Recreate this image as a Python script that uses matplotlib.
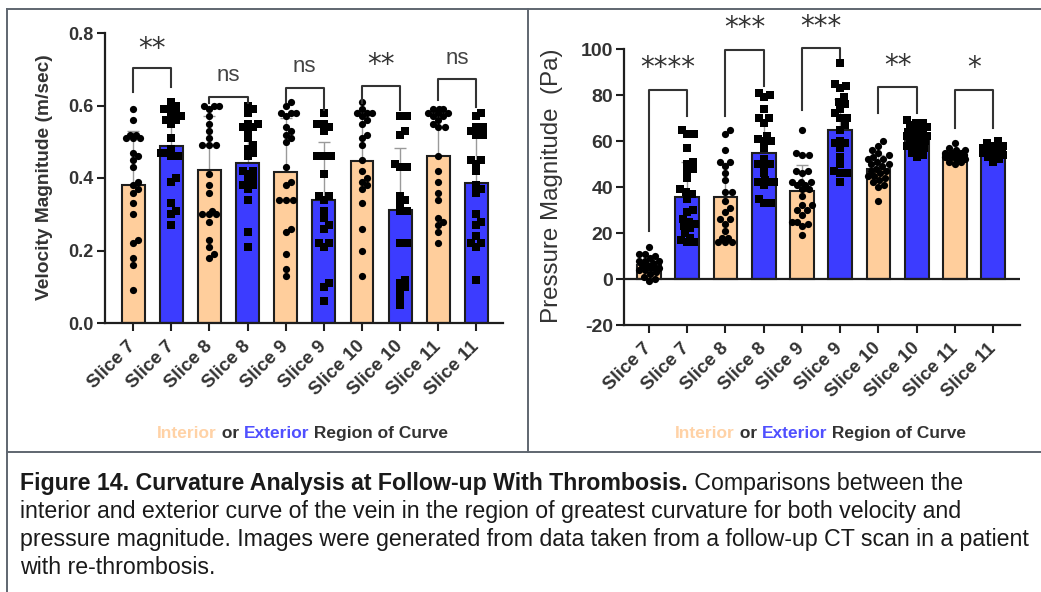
import numpy as np
import matplotlib.pyplot as plt
from matplotlib.lines import Line2D

# --- data ---
slice_labels = ['Slice 7', 'Slice 7', 'Slice 8', 'Slice 8', 'Slice 9',
                'Slice 9', 'Slice 10', 'Slice 10', 'Slice 11', 'Slice 11']

# velocity magnitude (m/sec): bar means, SD, individual points
vel_means = [0.381, 0.488, 0.422, 0.442, 0.416, 0.339, 0.448, 0.312, 0.461, 0.385]
vel_sd = [0.15, 0.10, 0.15, 0.10, 0.15, 0.159, 0.14, 0.172, 0.12, 0.14]

vel_s7_in = [0.59, 0.56, 0.52, 0.51, 0.51, 0.52, 0.51, 0.47, 0.46, 0.45, 0.43,
             0.39, 0.38, 0.37, 0.36, 0.33, 0.30, 0.23, 0.22, 0.18, 0.16, 0.09]
vel_s7_ex = [0.61, 0.60, 0.59, 0.59, 0.58, 0.57, 0.57, 0.56, 0.56, 0.55, 0.51,
             0.48, 0.47, 0.47, 0.46, 0.46, 0.40, 0.39, 0.33, 0.31, 0.30, 0.27]
vel_s8_in = [0.60, 0.60, 0.60, 0.59, 0.57, 0.55, 0.53, 0.51, 0.49, 0.49, 0.49, 0.41,
             0.38, 0.36, 0.31, 0.30, 0.30, 0.30, 0.28, 0.23, 0.21, 0.19, 0.18]
vel_s8_ex = [0.60, 0.59, 0.58, 0.55, 0.55, 0.54, 0.54, 0.53, 0.51, 0.49, 0.48, 0.47,
             0.46, 0.42, 0.42, 0.41, 0.40, 0.39, 0.38, 0.38, 0.37, 0.34, 0.25, 0.21]
vel_s9_in = [0.61, 0.60, 0.58, 0.58, 0.58, 0.57, 0.54, 0.53, 0.52, 0.51, 0.50,
             0.43, 0.39, 0.38, 0.34, 0.34, 0.34, 0.26, 0.25, 0.19, 0.15, 0.13]
vel_s9_ex = [0.58, 0.55, 0.55, 0.54, 0.53, 0.46, 0.46, 0.46, 0.41, 0.35, 0.35,
             0.34, 0.31, 0.29, 0.27, 0.26, 0.22, 0.22, 0.21, 0.11, 0.10, 0.06]
vel_s10_in = [0.61, 0.59, 0.58, 0.58, 0.58, 0.57, 0.56, 0.55, 0.52, 0.51, 0.49,
              0.45, 0.42, 0.40, 0.39, 0.38, 0.37, 0.33, 0.26, 0.20, 0.13]
vel_s10_ex = [0.57, 0.57, 0.53, 0.52, 0.44, 0.43, 0.43, 0.35, 0.34, 0.33,
              0.31, 0.31, 0.22, 0.22, 0.12, 0.11, 0.10, 0.09, 0.07, 0.05]
vel_s11_in = [0.59, 0.59, 0.59, 0.58, 0.58, 0.58, 0.57, 0.57, 0.56, 0.55, 0.54,
              0.54, 0.46, 0.42, 0.39, 0.36, 0.34, 0.29, 0.28, 0.27, 0.25, 0.22]
vel_s11_ex = [0.58, 0.57, 0.54, 0.54, 0.53, 0.52, 0.52, 0.45, 0.45, 0.44, 0.42,
              0.38, 0.37, 0.36, 0.30, 0.28, 0.27, 0.24, 0.22, 0.22, 0.21, 0.12]

vel_sig = ['**', 'ns', 'ns', '**', 'ns']
vel_br_top = [0.703, 0.623, 0.648, 0.654, 0.673]
vel_br_left = [0.637, 0.607, 0.610, 0.607, 0.615]
vel_br_right = [0.651, 0.607, 0.588, 0.588, 0.596]
vel_sig_y = [0.755, 0.684, 0.707, 0.712, 0.731]

# pressure magnitude (Pa)
pres_means = [6.0, 35.5, 35.5, 54.6, 38.4, 64.8, 47.7, 61.0, 53.8, 55.8]
pres_sd = [3.9, 15.5, 15.0, 14.5, 11.0, 13.5, 6.0, 4.5, 2.2, 2.3]

pres_s7_in = [14, 11, 11, 10, 9, 8, 8, 8, 7, 6, 6, 5, 5, 5, 4, 4, 3, 2, 1, 0, -1]
pres_s7_ex = [65, 63, 63, 57, 51, 50, 48, 47, 44, 39, 38, 37, 35, 30, 29, 26, 25,
              24, 23, 22, 20, 18, 17, 16, 16]
pres_s8_in = [65, 63, 56, 51, 51, 49, 46, 43, 38, 38, 34, 31, 29, 26, 26, 24, 21,
              18, 18, 16, 16, 16]
pres_s8_ex = [81, 80, 79, 74, 70, 70, 68, 62, 61, 60, 60, 57, 52, 50, 50, 49, 46,
              43, 42, 42, 42, 41, 35, 33, 33]
pres_s9_in = [65, 55, 54, 54, 47, 47, 46, 42, 42, 42, 41, 41, 39, 39, 36, 32, 32,
              30, 30, 28, 25, 25, 24, 23, 19]
pres_s9_ex = [94, 85, 84, 83, 79, 77, 76, 74, 72, 70, 70, 67, 65, 60, 59, 59, 57,
              53, 50, 47, 46, 46, 42]
pres_s10_in = [60, 58, 56, 55, 54, 53, 52, 52, 51, 50, 50, 49, 48, 47, 47, 46, 45,
               45, 44, 43, 42, 41, 40, 34]
pres_s10_ex = [69, 68, 68, 67, 66, 66, 65, 64, 64, 63, 63, 62, 62, 61, 61, 60, 60,
               59, 58, 58, 57, 56, 55, 54, 53]
pres_s11_in = [59, 57, 56, 56, 55, 55, 55, 54, 54, 54, 54, 53, 53, 53, 52, 52, 51, 51, 50]
pres_s11_ex = [60, 59, 58, 58, 57, 57, 57, 56, 56, 56, 56, 55, 55, 55, 54, 54, 53, 52, 51]

pres_sig = ['****', '***', '***', '**', '*']
pres_br_top = [82, 99.6, 100.5, 83.5, 82]
pres_br_left = [21, 71, 73.5, 72, 65.6]
pres_br_right = [71, 84, 96, 72, 65.6]
pres_sig_y = [91.6, 109, 109.7, 92.6, 91.6]

vel_points = [vel_s7_in, vel_s7_ex, vel_s8_in, vel_s8_ex, vel_s9_in,
              vel_s9_ex, vel_s10_in, vel_s10_ex, vel_s11_in, vel_s11_ex]
pres_points = [pres_s7_in, pres_s7_ex, pres_s8_in, pres_s8_ex, pres_s9_in,
               pres_s9_ex, pres_s10_in, pres_s10_ex, pres_s11_in, pres_s11_ex]

# --- style ---
INT_COL = '#FFCE9C'
EXT_COL = '#3C3CFF'
INK = '#1e1e1e'
TXT = '#333333'

W, H = 1041, 592
plt.rcParams['font.family'] = ['Liberation Sans', 'DejaVu Sans']
CAP_SIZE = 16.7

fig = plt.figure(figsize=(W / 100, H / 100), dpi=100)


def rect(x0, y0, x1, y1):
    # pixel box -> figure fraction
    return [x0 / W, 1 - y1 / H, (x1 - x0) / W, (y1 - y0) / H]


def swarm_offsets(vals, ypx, dia=6.5, maxoff=10.5):
    # simple deterministic beeswarm, offsets in pixels
    vals = np.asarray(vals, float)
    order = np.argsort(vals)
    cands = [0.0]
    for k in np.arange(1.0, maxoff + 0.01, 1.0):
        cands += [k, -k]
    placed = []
    offs = np.zeros(len(vals))
    for i in order:
        y = vals[i] * ypx
        best, best_d = 0.0, -1
        for c in cands:
            dmin = min([np.hypot(c - px_, y - py_) for px_, py_ in placed] + [99])
            if dmin >= dia * 0.95:
                best = c
                break
            if dmin > best_d:
                best, best_d = c, dmin
        placed.append((best, y))
        offs[i] = best
    return offs


def draw_panel(ax, means, sds, points, ypx, bar_w, xpx=38.0):
    x = np.arange(len(means))
    cols = [INT_COL if i % 2 == 0 else EXT_COL for i in x]
    ax.errorbar(x, means, yerr=[np.zeros(len(sds)), sds], fmt='none',
                ecolor='#9a9a9a', elinewidth=1.0, capsize=4.5, capthick=1.0, zorder=1)
    ax.bar(x, means, width=bar_w, color=cols, edgecolor=INK, linewidth=1.5, zorder=2)
    for i, pts in enumerate(points):
        offs = swarm_offsets(pts, ypx)
        ax.scatter(i + offs / xpx, pts, s=27, marker='o' if i % 2 == 0 else 's',
                   color='black', linewidths=0, zorder=3, clip_on=False)
    for s in ['top', 'right']:
        ax.spines[s].set_visible(False)
    for s in ['left', 'bottom']:
        ax.spines[s].set_linewidth(1.6)
        ax.spines[s].set_color(INK)
    ax.tick_params(direction='out', length=6, width=1.5, colors=INK, pad=2)
    ax.tick_params(axis='x', pad=9)
    ax.set_xticks(x)
    ax.set_xticklabels(slice_labels, rotation=45, ha='right', va='center',
                       rotation_mode='anchor', fontsize=13.5, fontweight='bold', color=TXT)


def draw_sig(ax, sig, top, left, right, ly, size_ns, size_star):
    for k in range(len(sig)):
        x0, x1 = 2 * k, 2 * k + 1
        ax.plot([x0, x0, x1, x1], [left[k], top[k], top[k], right[k]],
                color=TXT, lw=1.5, clip_on=False, zorder=4)
        if sig[k] == 'ns':
            ax.text(k * 2 + 0.5, ly[k], 'ns', ha='center', va='center',
                    fontsize=size_ns, color='#444444', clip_on=False)
        else:
            ax.text(k * 2 + 0.5, ly[k], sig[k], ha='center', va='center',
                    fontsize=size_star, color=TXT, family='DejaVu Sans',
                    clip_on=False)


# left panel: velocity
ax1 = fig.add_axes(rect(105, 33, 503, 323))
draw_panel(ax1, vel_means, vel_sd, vel_points, 362.5, 0.6)
ax1.set_ylim(0, 0.8)
ax1.set_yticks([0.0, 0.2, 0.4, 0.6, 0.8])
ax1.set_yticklabels(['0.0', '0.2', '0.4', '0.6', '0.8'], fontsize=13,
                    fontweight='bold', color=TXT)
ax1.set_xlim(-0.74, 9.7)
draw_sig(ax1, vel_sig, vel_br_top, vel_br_left, vel_br_right, vel_sig_y, 16, 20)

# right panel: pressure
ax2 = fig.add_axes(rect(624, 49, 1020, 325))
draw_panel(ax2, pres_means, pres_sd, pres_points, 2.3, 0.62)
ax2.axhline(0, color=INK, lw=1.6, zorder=2.5)
ax2.set_ylim(-20, 100)
ax2.set_yticks([-20, 0, 20, 40, 60, 80, 100])
ax2.set_yticklabels(['-20', '0', '20', '40', '60', '80', '100'], fontsize=14,
                    fontweight='bold', color=TXT)
ax2.set_xlim(-0.65, 9.7)
draw_sig(ax2, pres_sig, pres_br_top, pres_br_left, pres_br_right, pres_sig_y, 16, 20)

# axis titles
fig.text(45 / W, 1 - 177 / H, 'Velocity Magnitude (m/sec)', rotation=90,
         ha='center', va='center', fontsize=13.8, fontweight='bold', color=TXT)
fig.text(552 / W, 1 - 186 / H, 'Pressure Magnitude  (Pa)', rotation=90,
         ha='center', va='center', fontsize=17.4, color=TXT)

# "Interior or Exterior Region of Curve" with coloured words
for x0 in (157, 675):
    a = fig.text(x0 / W, 1 - 438 / H, 'Interior', color='#FFD2A6',
                 fontsize=12.5, fontweight='bold', va='baseline')
    b = ax1.annotate(' or ', xy=(1, 0), xycoords=a, va='bottom', ha='left',
                     fontsize=12.5, fontweight='bold', color=TXT)
    c = ax1.annotate('Exterior', xy=(1, 0), xycoords=b, va='bottom', ha='left',
                     fontsize=12.5, fontweight='bold', color='#5050FF')
    ax1.annotate(' Region of Curve', xy=(1, 0), xycoords=c, va='bottom', ha='left',
                 fontsize=12.5, fontweight='bold', color=TXT)

# caption
cap1 = fig.text(20 / W, 1 - 490 / H, 'Figure 14. Curvature Analysis at Follow-up With Thrombosis.',
                fontsize=CAP_SIZE, fontweight='bold', color='#1a1a1a', va='baseline')
ax1.annotate(' Comparisons between the', xy=(1, 0), xycoords=cap1, va='bottom', ha='left',
             fontsize=CAP_SIZE, color='#1a1a1a')
cap_lines = ['interior and exterior curve of the vein in the region of greatest curvature for both velocity and',
             'pressure magnitude. Images were generated from data taken from a follow-up CT scan in a patient',
             'with re-thrombosis.']
for k, line in enumerate(cap_lines):
    fig.text(20 / W, 1 - (518 + 28 * k) / H, line, fontsize=CAP_SIZE,
             color='#1a1a1a', va='baseline')

# panel frames
frame_col = '#5f6670'
for xs, ys in [((7, 1041), (9, 9)), ((7, 7), (9, 592)), ((528, 528), (9, 452)),
               ((7, 1041), (452, 452))]:
    fig.add_artist(Line2D([v / W for v in xs], [1 - v / H for v in ys],
                          color=frame_col, lw=1.4, transform=fig.transFigure))

fig.savefig('out.png', dpi=100)
